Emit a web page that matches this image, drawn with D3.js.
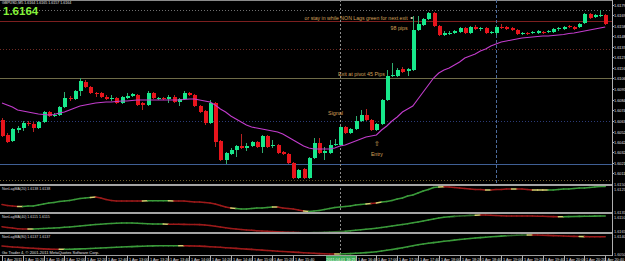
<!DOCTYPE html>
<html><head><meta charset="utf-8">
<script src="https://cdn.jsdelivr.net/npm/d3@7"></script>
<style>html,body{margin:0;padding:0;background:#000;overflow:hidden}svg{display:block}</style>
</head><body>
<svg id="c" width="625" height="261"></svg>
<script>
// ---------------- DATA ----------------
const symbolHeader = "GBPUSD,M5  1.6164 1.6165 1.6157 1.6164";
const lastPrice = "1.6164";
const timeLabels = ["1 Apr 2011","1 Apr 11:20","1 Apr 11:40","1 Apr 12:00","1 Apr 12:20","1 Apr 12:40","1 Apr 13:00","1 Apr 13:20","1 Apr 13:40","1 Apr 14:00","1 Apr 14:20","1 Apr 14:40","1 Apr 15:00","1 Apr 15:20","1 Apr 15:40","1 Apr 16:00","1 Apr 16:20","1 Apr 16:40","1 Apr 17:00","1 Apr 17:20","1 Apr 17:40","1 Apr 18:00","1 Apr 18:20","1 Apr 18:40","1 Apr 19:00","1 Apr 19:20","1 Apr 19:40","1 Apr 20:00","1 Apr 20:20","1 Apr 20:40"];
const timeLabelBars = [0,4,8,12,16,20,24,28,32,36,40,44,48,52,56,60,64,68,72,76,80,84,88,92,96,100,104,108,112,116];
const cursorTime = "2011.04.01 16:25";
const cursorBar = 65;
const markerBar = 95;

const open = [1.6064,1.6049,1.6043,1.6054,1.6056,1.6061,1.6060,1.6056,1.6062,1.6072,
1.6068,1.6069,1.6077,1.6086,1.6085,1.6093,1.6102,1.6097,1.6091,1.6091,
1.6087,1.6085,1.6086,1.6081,1.6086,1.6088,1.6089,1.6081,1.6079,1.6091,
1.6085,1.6086,1.6085,1.6087,1.6082,1.6085,1.6091,1.6089,1.6078,1.6073,
1.6061,1.6081,1.6043,1.6024,1.6030,1.6034,1.6038,1.6036,1.6038,1.6042,
1.6037,1.6048,1.6038,1.6039,1.6032,1.6030,1.6021,1.6006,1.6015,1.6006,
1.6026,1.6041,1.6031,1.6031,1.6039,1.6039,1.6057,1.6051,1.6055,1.6063,
1.6069,1.6064,1.6054,1.6060,1.6084,1.6108,1.6108,1.6115,1.6113,1.6114,
1.6154,1.6159,1.6165,1.6171,1.6158,1.6149,1.6150,1.6151,1.6152,1.6156,
1.6151,1.6157,1.6155,1.6156,1.6151,1.6151,1.6157,1.6157,1.6156,1.6154,
1.6150,1.6151,1.6151,1.6151,1.6152,1.6152,1.6152,1.6155,1.6155,1.6158,
1.6157,1.6157,1.6161,1.6170,1.6167,1.6168,1.6169];
const high = [1.6066,1.6051,1.6056,1.6058,1.6063,1.6063,1.6062,1.6063,1.6073,1.6073,
1.6071,1.6078,1.6092,1.6088,1.6094,1.6106,1.6104,1.6098,1.6092,1.6092,
1.6089,1.6089,1.6087,1.6088,1.6091,1.6091,1.6090,1.6082,1.6093,1.6092,
1.6087,1.6087,1.6089,1.6089,1.6086,1.6093,1.6092,1.6090,1.6079,1.6074,
1.6084,1.6082,1.6044,1.6032,1.6036,1.6039,1.6050,1.6041,1.6043,1.6043,
1.6049,1.6049,1.6044,1.6040,1.6033,1.6031,1.6022,1.6015,1.6016,1.6027,
1.6046,1.6046,1.6037,1.6044,1.6045,1.6058,1.6058,1.6056,1.6068,1.6074,
1.6075,1.6065,1.6061,1.6085,1.6114,1.6121,1.6116,1.6117,1.6116,1.6168,
1.6168,1.6166,1.6172,1.6172,1.6159,1.6153,1.6153,1.6154,1.6157,1.6157,
1.6158,1.6159,1.6157,1.6157,1.6153,1.6158,1.6160,1.6158,1.6157,1.6155,
1.6152,1.6152,1.6153,1.6154,1.6153,1.6154,1.6156,1.6157,1.6158,1.6159,
1.6158,1.6161,1.6171,1.6171,1.6170,1.6174,1.6170];
const low = [1.6047,1.6041,1.6042,1.6051,1.6053,1.6058,1.6052,1.6055,1.6061,1.6067,
1.6067,1.6068,1.6076,1.6083,1.6084,1.6088,1.6096,1.6090,1.6087,1.6086,
1.6084,1.6083,1.6080,1.6080,1.6085,1.6087,1.6078,1.6074,1.6078,1.6085,
1.6084,1.6084,1.6081,1.6081,1.6078,1.6084,1.6088,1.6077,1.6071,1.6059,
1.6060,1.6037,1.6023,1.6020,1.6029,1.6027,1.6035,1.6033,1.6037,1.6036,
1.6031,1.6036,1.6036,1.6030,1.6029,1.6020,1.6005,1.6005,1.6005,1.6005,
1.6025,1.6030,1.6024,1.6030,1.6038,1.6038,1.6050,1.6050,1.6054,1.6062,
1.6063,1.6053,1.6053,1.6059,1.6083,1.6107,1.6107,1.6111,1.6108,1.6113,
1.6153,1.6158,1.6164,1.6157,1.6148,1.6148,1.6149,1.6150,1.6151,1.6150,
1.6150,1.6154,1.6153,1.6150,1.6150,1.6149,1.6155,1.6154,1.6153,1.6149,
1.6149,1.6149,1.6150,1.6150,1.6150,1.6151,1.6151,1.6153,1.6154,1.6156,
1.6154,1.6156,1.6160,1.6165,1.6166,1.6167,1.6159];
const close = [1.6048,1.6042,1.6055,1.6056,1.6061,1.6060,1.6056,1.6062,1.6072,1.6068,
1.6069,1.6077,1.6086,1.6085,1.6093,1.6103,1.6097,1.6091,1.6090,1.6087,
1.6085,1.6086,1.6081,1.6087,1.6088,1.6090,1.6079,1.6079,1.6091,1.6086,
1.6086,1.6085,1.6087,1.6082,1.6085,1.6091,1.6089,1.6078,1.6072,1.6061,
1.6081,1.6042,1.6024,1.6031,1.6034,1.6038,1.6036,1.6038,1.6042,1.6037,
1.6048,1.6037,1.6039,1.6031,1.6030,1.6021,1.6006,1.6014,1.6006,1.6026,
1.6041,1.6031,1.6033,1.6039,1.6040,1.6057,1.6051,1.6055,1.6063,1.6069,
1.6064,1.6054,1.6060,1.6084,1.6108,1.6109,1.6114,1.6112,1.6115,1.6154,
1.6160,1.6165,1.6171,1.6158,1.6149,1.6151,1.6151,1.6153,1.6156,1.6151,
1.6157,1.6155,1.6156,1.6151,1.6152,1.6157,1.6156,1.6155,1.6154,1.6150,
1.6151,1.6150,1.6152,1.6153,1.6151,1.6153,1.6155,1.6156,1.6157,1.6157,
1.6155,1.6160,1.6170,1.6166,1.6169,1.6169,1.6160];
const maValues = [1.6081,1.6079,1.6077,1.6074,1.6073,1.6072,1.6071,1.6070,1.60695,1.6069,
1.60695,1.6071,1.6072,1.6074,1.6076,1.6078,1.6079,1.6080,1.6081,1.60815,
1.6082,1.6082,1.60825,1.6083,1.6083,1.60835,1.6084,1.6084,1.6084,1.6084,
1.6084,1.6084,1.6084,1.6084,1.6084,1.60845,1.6085,1.6085,1.6084,1.6083,
1.6082,1.6079,1.6075,1.6072,1.6068,1.6065,1.6062,1.6059,1.6057,1.6056,
1.6055,1.6054,1.6053,1.6052,1.6050,1.6047,1.6044,1.6041,1.6038,1.6036,
1.6035,1.6035,1.6035,1.6035,1.6036,1.6038,1.6039,1.6041,1.6043,1.6045,
1.6047,1.6048,1.6049,1.6054,1.6058,1.6063,1.6067,1.6072,1.6075,1.6078,
1.6085,1.6092,1.6099,1.6106,1.6111,1.6114,1.6116,1.6119,1.6122,1.6126,
1.6128,1.6130,1.6133,1.6135,1.6138,1.6140,1.6142,1.6143,1.6144,1.6145,
1.6146,1.61465,1.6147,1.61475,1.6148,1.6148,1.61485,1.6149,1.61495,1.61505,
1.6151,1.6152,1.6153,1.6154,1.6155,1.6156,1.6157];
const nonLag20 = [1.60475,1.60425,1.6040,1.60375,1.60375,1.6040,1.6040,1.6045,1.6050,1.6055,
1.60575,1.60625,1.6065,1.60675,1.60725,1.60775,1.6080,1.60825,1.6085,1.6080,
1.60725,1.60675,1.6065,1.6065,1.6065,1.6065,1.6065,1.6065,1.60665,1.60665,
1.60665,1.60665,1.60665,1.6065,1.6065,1.6065,1.60625,1.6060,1.6060,1.60575,
1.6055,1.6050,1.60425,1.6035,1.6030,1.60275,1.6025,1.6025,1.60275,1.6030,
1.6030,1.60325,1.6035,1.6035,1.6030,1.60275,1.6025,1.6020,1.6015,1.60125,
1.6015,1.60175,1.60225,1.60275,1.60325,1.6035,1.60375,1.6040,1.6045,1.60475,
1.6050,1.60525,1.6055,1.6060,1.60625,1.60675,1.6075,1.6080,1.6090,1.6095,
1.6105,1.6115,1.61225,1.61325,1.6135,1.61365,1.6135,1.61325,1.6130,1.61275,
1.6125,1.61225,1.61225,1.6120,1.6120,1.61225,1.61225,1.6125,1.6125,1.6125,
1.6125,1.61225,1.6120,1.6120,1.6120,1.6120,1.6120,1.61225,1.6125,1.6125,
1.61275,1.6130,1.6130,1.61325,1.6135,1.61375,1.61375];
const nonLag40 = [1.60615,1.60575,1.6055,1.60515,1.6050,1.6050,1.6050,1.60515,1.60525,1.6054,
1.6055,1.60565,1.6059,1.6060,1.60625,1.6065,1.60675,1.6070,1.60725,1.6074,
1.6076,1.60775,1.6079,1.6080,1.6080,1.6080,1.6079,1.60775,1.60765,1.6075,
1.6075,1.6075,1.6074,1.60735,1.60735,1.6073,1.60725,1.60725,1.6072,1.6070,
1.60675,1.6064,1.6060,1.60565,1.60525,1.6050,1.60475,1.6045,1.60435,1.60415,
1.6040,1.60385,1.6037,1.6036,1.6035,1.6034,1.6033,1.60325,1.60315,1.60315,
1.6032,1.60325,1.60335,1.6035,1.6036,1.60375,1.6039,1.6041,1.60435,1.6046,
1.60485,1.6051,1.6054,1.60575,1.6061,1.6065,1.60685,1.60725,1.60765,1.6081,
1.6085,1.6090,1.6095,1.6100,1.6105,1.61085,1.6111,1.6113,1.6115,1.61165,
1.6118,1.6119,1.6120,1.6120,1.6119,1.61175,1.6116,1.6115,1.6115,1.6115,
1.6115,1.6115,1.6115,1.6114,1.61135,1.61125,1.6112,1.61115,1.61115,1.6112,
1.61125,1.6113,1.61135,1.6114,1.61145,1.6115,1.6115];
const nonLag80 = [1.6090,1.60875,1.6085,1.60835,1.6082,1.6080,1.60785,1.6077,1.60755,1.60745,
1.6074,1.60735,1.60735,1.6074,1.60745,1.60755,1.60765,1.60775,1.60785,1.6080,
1.6081,1.60825,1.6084,1.6085,1.6086,1.6087,1.6088,1.6089,1.6090,1.60905,
1.6091,1.60915,1.60915,1.60915,1.60915,1.6091,1.60905,1.6090,1.60895,1.6088,
1.60865,1.6085,1.60835,1.60815,1.6080,1.6078,1.60765,1.60745,1.6073,1.6071,
1.60695,1.60675,1.6066,1.6064,1.60625,1.6061,1.60595,1.6058,1.60565,1.6055,
1.60535,1.6052,1.6051,1.6050,1.6050,1.6050,1.6051,1.6052,1.60535,1.6055,
1.6057,1.6059,1.60615,1.6065,1.60685,1.60725,1.6077,1.6081,1.6086,1.6091,
1.6096,1.6100,1.61035,1.6107,1.6110,1.61135,1.61165,1.61195,1.61225,1.6125,
1.61275,1.6130,1.6132,1.6134,1.6136,1.61375,1.61395,1.6141,1.61425,1.6144,
1.6145,1.6145,1.6145,1.6145,1.6144,1.6143,1.6142,1.6141,1.6140,1.6139,
1.6138,1.61375,1.6137,1.61365,1.61365,1.61365,1.61365];
// trend state runs per bar: r = down, g = up, d = up (weak), y = turning
const trend20Runs = [["r",4],["y",1],["g",13],["y",1],["r",9],["y",1],["g",4],["y",1],["r",11],["y",1],["g",7],["y",1],["r",5],["y",1],["g",11],["y",1],["r",1],["y",1],["g",11],["y",1],["r",8],["y",1],["r",4],["y",1],["r",3],["y",3],["g",11]];
const trend40Runs = [["r",6],["y",1],["g",25],["y",1],["r",26],["y",1],["d",7],["g",21],["d",4],["y",1],["r",15],["y",1],["g",8]];
const trend80Runs = [["r",12],["y",1],["g",22],["y",1],["r",29],["y",1],["g",32],["d",4],["y",1],["r",9],["y",1],["r",4]];
const indicatorNames = ["NonLagMA(20)","NonLagMA(40)","NonLagMA(80)"];
const levelPrices = [1.6174, 1.6163, 1.6135, 1.6106, 1.6063, 1.6020, 1.6004];
const priceTicks = [1.6179,1.6169,1.6158,1.6148,1.6137,1.6127,1.6116,1.6106,1.6095,1.6084,1.6074,1.6063,1.6052,1.6042,1.6032,1.6021,1.6011];
const subTicks = [[1.6150,1.6125],[1.6135,1.6110],[1.6165,1.6140,1.6050]];
const notes = [
  {text:"or stay in while NON Lags green for next exit", bar:78, price:1.6164, anchor:"end", len:103},
  {text:"98 pips", bar:78, price:1.6154, anchor:"end", len:17},
  {text:"Exit at pivot 45 Pips", bar:64.6, price:1.6108, anchor:"start", len:47},
  {text:"Signal", bar:62.7, price:1.6069, anchor:"start", len:15},
  {text:"\u21E7", bar:72.1, price:1.6038, anchor:"middle", len:0},
  {text:"Entry", bar:72.1, price:1.6028, anchor:"middle", len:12}
];

// ---------------- DRAW ----------------
const W = 625, H = 261, plotR = 612;
const svg = d3.select("#c");
svg.append("rect").attr("width",W).attr("height",H).attr("fill","#000");
const FONT = "'Liberation Sans', Arial, sans-serif";

const n = open.length;
const x = d3.scaleLinear().domain([0, n-1]).range([2, 605.2]);
const y = d3.scaleLinear().domain([1.6000, 1.6184]).range([184, 0]);
const panels = [
  {scale: d3.scaleLinear().domain([1.6010, 1.6140]).range([212, 186]), vals: nonLag20, runs: trend20Runs, top:186},
  {scale: d3.scaleLinear().domain([1.6030, 1.6130]).range([233, 213]), vals: nonLag40, runs: trend40Runs, top:214},
  {scale: d3.scaleLinear().domain([1.6050, 1.6150]).range([254, 234]), vals: nonLag80, runs: trend80Runs, top:234}
];

const main = svg.append("g");
main.append("line").attr("x1",0).attr("x2",plotR).attr("y1",0.5).attr("y2",0.5).attr("stroke","#8a8a8a");

const levelStyle = [
  {c:"#707070", d:"1,2"}, {c:"#7c1f1f", d:null}, {c:"#6e2a24", d:"1,2"}, {c:"#6f6c48", d:null},
  {c:"#2c3b78", d:"1,2"}, {c:"#3f5f95", d:null}, {c:"#6e5c2c", d:"1,2"}
];
levelPrices.forEach((p,i)=>{
  const yy = Math.round(y(p))+0.5;
  main.append("line").attr("x1",0).attr("x2",plotR).attr("y1",yy).attr("y2",yy)
    .attr("stroke",levelStyle[i].c).attr("stroke-width",1)
    .attr("stroke-dasharray",levelStyle[i].d);
});

main.append("line").attr("x1",Math.round(x(cursorBar))+0.5).attr("x2",Math.round(x(cursorBar))+0.5)
  .attr("y1",0).attr("y2",255).attr("stroke","#8c8c8c").attr("stroke-dasharray","2,2");
main.append("line").attr("x1",Math.round(x(markerBar))+0.5).attr("x2",Math.round(x(markerBar))+0.5)
  .attr("y1",0).attr("y2",184).attr("stroke","#4d6c9c").attr("stroke-dasharray","3,2");

const idx = d3.range(n);
const cg = main.append("g");
cg.selectAll("line.w").data(idx).join("line").attr("class","w")
  .attr("x1",i=>Math.round(x(i))+0.5).attr("x2",i=>Math.round(x(i))+0.5)
  .attr("y1",i=>y(high[i])).attr("y2",i=>y(low[i]))
  .attr("stroke",i=>close[i]>=open[i]?"#2fae70":"#b82222").attr("stroke-width",1);
cg.selectAll("rect.b").data(idx).join("rect").attr("class","b")
  .attr("x",i=>Math.round(x(i))-1)
  .attr("width",4)
  .attr("y",i=>Math.round(y(Math.max(open[i],close[i]))))
  .attr("height",i=>Math.max(1,Math.round(Math.abs(y(open[i])-y(close[i])))))
  .attr("fill",i=>close[i]>=open[i]?"#17e88b":"#e8141c")
  .attr("shape-rendering","crispEdges");

main.append("path").datum(idx)
  .attr("d", d3.line().x(i=>x(i)).y(i=>y(maValues[i])))
  .attr("fill","none").attr("stroke","#c23ccc").attr("stroke-width",1.1);

notes.forEach(nt=>{
  const t = main.append("text").attr("x",x(nt.bar)).attr("y",y(nt.price))
    .attr("text-anchor",nt.anchor).attr("fill","#d4a05a")
    .attr("font-family",FONT).attr("font-size", nt.len? 5.6 : 7).text(nt.text);
  if (nt.len) t.attr("textLength",nt.len).attr("lengthAdjust","spacingAndGlyphs");
});
main.append("rect").attr("x",x(78.6)).attr("y",y(1.6167)).attr("width",2).attr("height",2).attr("fill","#d0c0a0");

// header
svg.append("text").attr("x",2).attr("y",3.8).attr("fill","#e0e0e0").attr("font-family",FONT)
  .attr("font-size",3.6).text(symbolHeader);
svg.append("text").attr("x",3).attr("y",15).attr("fill","#86f23a").attr("font-family",FONT)
  .attr("font-weight","bold").attr("font-size",11.5).text(lastPrice);

// sub panels
const colorMap = {r:"#9c1a1a", g:"#3a9a3a", d:"#2f6a2a", y:"#d6d070"};
panels.forEach((p,k)=>{
  const states = p.runs.flatMap(([s,c])=>Array(c).fill(s));
  const g = svg.append("g");
  for (let i=0;i<n-1;i++){
    g.append("line").attr("x1",x(i)).attr("x2",x(i+1))
      .attr("y1",p.scale(p.vals[i])).attr("y2",p.scale(p.vals[i+1]))
      .attr("stroke",colorMap[states[i+1]]).attr("stroke-width",1.6).attr("stroke-linecap","round");
  }
  const last = p.vals[n-1].toFixed(4);
  g.append("text").attr("x",2).attr("y",p.top+3.5).attr("fill","#d8d8d8").attr("font-family",FONT)
    .attr("font-size",3.6).text(indicatorNames[k]+" "+last+" "+last);
  subTicks[k].forEach(v=>{
    g.append("text").attr("x",614).attr("y",p.scale(v)+1.5).attr("fill","#d8d8d8")
      .attr("font-family",FONT).attr("font-size",3.8).text(v.toFixed(4));
  });
});

[184,212,232].forEach(s=>{
  svg.append("rect").attr("x",0).attr("y",s).attr("width",plotR).attr("height",2).attr("fill","#a4a4a4");
});
svg.append("line").attr("x1",0).attr("x2",plotR).attr("y1",255.5).attr("y2",255.5).attr("stroke","#a0a0a0");

svg.append("text").attr("x",2).attr("y",253.5).attr("fill","#e0e0e0").attr("font-family",FONT)
  .attr("font-size",4).text("Go Trader 4, \u00A9 2001-2011 MetaQuotes Software Corp.");

// price axis
svg.append("line").attr("x1",plotR+0.5).attr("x2",plotR+0.5).attr("y1",0).attr("y2",256).attr("stroke","#b0b0b0");
priceTicks.forEach(v=>{
  const yy = y(v);
  svg.append("line").attr("x1",plotR).attr("x2",plotR+2).attr("y1",Math.round(yy)+0.5).attr("y2",Math.round(yy)+0.5).attr("stroke","#b0b0b0");
  svg.append("text").attr("x",614).attr("y",yy+1.5).attr("fill","#e0e0e0").attr("font-family",FONT)
    .attr("font-size",3.8).text(v.toFixed(4));
});

// time axis
const cx = x(cursorBar);
const boxL = cx-14, boxR = cx+16;
timeLabels.forEach((t,k)=>{
  const xx = Math.round(x(timeLabelBars[k]))+0.5;
  const last = k === timeLabels.length-1;
  if (xx+20 > boxL && xx < boxR) return; // hidden under cursor time box
  svg.append("line").attr("x1",xx).attr("x2",xx).attr("y1",256).attr("y2",261).attr("stroke","#b0b0b0");
  svg.append("text").attr("x",last? 624 : xx+1.5).attr("y",260.5)
    .attr("text-anchor", last? "end" : "start").attr("fill","#e0e0e0").attr("font-family",FONT)
    .attr("font-size",3.8).text(t);
});
svg.append("rect").attr("x",boxL).attr("y",256).attr("width",boxR-boxL).attr("height",5).attr("fill","#3daa5a");
svg.append("text").attr("x",cx+1).attr("y",260.5).attr("text-anchor","middle").attr("fill","#e8ffe8")
  .attr("font-family",FONT).attr("font-size",3.8).text(cursorTime);
</script>
</body></html>
